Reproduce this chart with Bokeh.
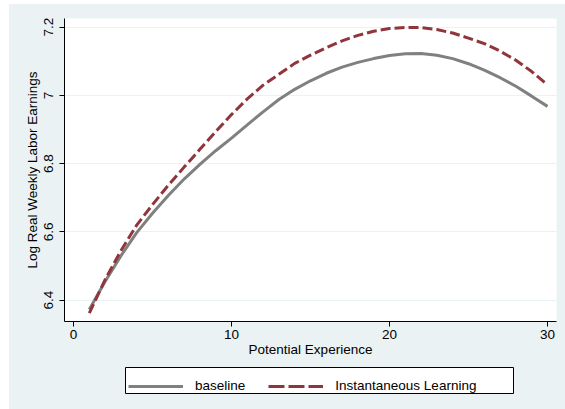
from bokeh.plotting import figure
from bokeh.models import Range1d, Legend, LegendItem, FixedTicker, BoxAnnotation
from bokeh.layouts import column
from bokeh.embed import file_html
from bokeh.resources import INLINE

experience = list(range(1, 31))
baseline = [6.373, 6.455, 6.530, 6.598, 6.655, 6.707, 6.755, 6.798, 6.838, 6.875,
            6.914, 6.952, 6.988, 7.018, 7.043, 7.065, 7.083, 7.097, 7.108, 7.117,
            7.122, 7.123, 7.118, 7.108, 7.093, 7.074, 7.052, 7.027, 6.998, 6.968]
instantaneous = [6.362, 6.460, 6.545, 6.620, 6.680, 6.737, 6.790, 6.842, 6.894, 6.944,
                 6.990, 7.030, 7.062, 7.094, 7.118, 7.140, 7.160, 7.176, 7.188, 7.196,
                 7.199, 7.199, 7.193, 7.183, 7.168, 7.152, 7.130, 7.103, 7.070, 7.031]
x_ticks = [0, 10, 20, 30]
y_ticks = [6.4, 6.6, 6.8, 7.0, 7.2]
y_tick_labels = {6.4: "6.4", 6.6: "6.6", 6.8: "6.8", 7.0: "7", 7.2: "7.2"}

BG = "#EAF2F3"
FONT = "Liberation Sans"
FS = "13.5px"
GRAY = "#808080"
RED = "#90353B"

p = figure(width=556, height=362, output_backend="svg", toolbar_location=None,
           x_range=Range1d(-0.57, 30.57), y_range=Range1d(6.3376, 7.2255),
           min_border_left=55, min_border_right=9, min_border_top=14, min_border_bottom=45)
p.background_fill_color = "white"
p.border_fill_color = BG
p.outline_line_color = None

p.line(experience, baseline, line_color=GRAY, line_width=3)
p.line(experience, instantaneous, line_color=RED, line_width=3, line_dash="10 4")

p.xgrid.grid_line_color = None
p.ygrid.grid_line_color = BG
p.ygrid.grid_line_width = 1

p.xaxis.ticker = FixedTicker(ticks=x_ticks)
p.yaxis.ticker = FixedTicker(ticks=y_ticks)
p.yaxis.major_label_overrides = y_tick_labels
p.yaxis.major_label_orientation = "vertical"

for ax in (p.xaxis, p.yaxis):
    ax.axis_line_color = "black"
    ax.major_tick_line_color = "black"
    ax.major_tick_out = 5
    ax.major_tick_in = 0
    ax.minor_tick_line_color = None
    ax.major_label_text_font = FONT
    ax.major_label_text_font_size = FS
    ax.major_label_text_color = "black"
    ax.axis_label_text_font = FONT
    ax.axis_label_text_font_size = FS
    ax.axis_label_text_font_style = "normal"
    ax.axis_label_text_color = "black"

p.xaxis.major_label_standoff = 3
p.xaxis.axis_label_standoff = 0
p.yaxis.major_label_standoff = 6
p.yaxis.axis_label_standoff = 2

p.xaxis.axis_label = "Potential Experience"
p.yaxis.axis_label = "Log Real Weekly Labor Earnings"

# legend strip below the plot (series drawn out of view, used only as legend keys)
q = figure(width=556, height=43, output_backend="svg", toolbar_location=None,
           x_range=Range1d(-0.57, 30.57), y_range=Range1d(0, 1),
           min_border_left=0, min_border_right=0, min_border_top=0, min_border_bottom=0)
q.axis.visible = False
q.grid.visible = False
q.background_fill_color = BG
q.border_fill_color = BG
q.outline_line_color = None
k1 = q.line(experience, baseline, line_color=GRAY, line_width=3)
k2 = q.line(experience, instantaneous, line_color=RED, line_width=3, line_dash="16 4")

box = BoxAnnotation(left=116, right=504, top=1, bottom=27,
                    left_units="canvas", right_units="canvas",
                    top_units="canvas", bottom_units="canvas",
                    fill_color="white", fill_alpha=1,
                    line_color="black", line_width=1, line_alpha=1)
q.add_layout(box, "center")

legend = Legend(items=[LegendItem(label="baseline", renderers=[k1]),
                       LegendItem(label="Instantaneous Learning", renderers=[k2])],
                orientation="horizontal", location=(64, 16))
legend.glyph_width = 55
legend.glyph_height = 14
legend.label_standoff = 12
legend.spacing = 23
legend.padding = 6
legend.margin = 0
legend.label_text_font = FONT
legend.label_text_font_size = FS
legend.label_text_color = "black"
legend.border_line_color = None
legend.background_fill_alpha = 0
q.add_layout(legend, "center")

layout = column(p, q, spacing=0)
layout.margin = (4, 0, 0, 9)
layout.styles = {"background-color": BG}

open("out.html", "w").write(file_html(layout, INLINE))
